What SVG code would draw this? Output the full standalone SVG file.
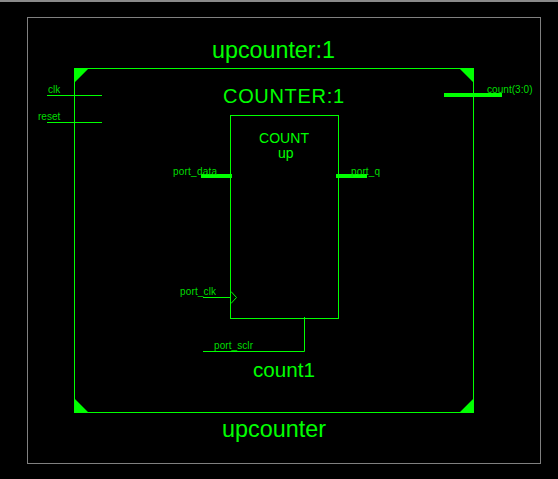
<svg xmlns="http://www.w3.org/2000/svg" width="558" height="479" viewBox="0 0 558 479">
<style>
text{font-family:"Liberation Sans",Arial,sans-serif;fill:#0f0}
.s{font-size:10px;fill:#0d0}
.m{font-size:14px}
.b{font-size:23px}
.w{fill:none;stroke:#0f0;stroke-width:1}
.t{fill:none;stroke:#0f0;stroke-width:4}
.c{fill:#0f0}
</style>
<rect width="558" height="479" fill="#000"/>
<rect width="558" height="2" fill="#8a8a8a"/>
<rect x="27.5" y="17.5" width="513" height="446" fill="none" stroke="#808080"/>
<g id="upcounter">
<rect class="w" x="74.5" y="68.5" width="399" height="344"/>
<path class="c" d="M74 68H89L74 83ZM474 68H459L474 83ZM74 413H89L74 398ZM474 413H459L474 398Z"/>
<text class="b" x="212" y="58" textLength="123" lengthAdjust="spacingAndGlyphs">upcounter:1</text>
<text class="b" x="222" y="437" textLength="104" lengthAdjust="spacingAndGlyphs">upcounter</text>
</g>
<g id="counter">
<rect class="w" x="230.500" y="115.500" width="108" height="203"/>
<path class="w" stroke-width=".7" d="M231 291.500L236.500 297.500L231 303.500"/>
<text class="b" style="font-size:20px" x="223" y="103" textLength="121">COUNTER:1</text>
<text class="m" x="259" y="143" textLength="50">COUNT</text>
<text class="m" x="278" y="158">up</text>
<text class="b" style="font-size:20px" x="253" y="377" textLength="62" lengthAdjust="spacingAndGlyphs">count1</text>
</g>
<g id="connectors">
<path class="w" d="M47 95.500H102M47 122.500H102M203 297.500H231M203 351.500H304.500V317"/>
<path class="t" d="M201 176H232M336 176H367M444 95H502"/>
</g>
<g id="labels">
<text class="s" x="48" y="93">clk</text>
<text class="s" x="38" y="120">reset</text>
<text class="s" x="173" y="174.500" textLength="44">port_data</text>
<text class="s" x="351" y="174.500" textLength="29">port_q</text>
<text class="s" x="487" y="93" textLength="45.500">count(3:0)</text>
<text class="s" x="180" y="295" textLength="36">port_clk</text>
<text class="s" x="214" y="349" textLength="39">port_sclr</text>
</g>
</svg>
